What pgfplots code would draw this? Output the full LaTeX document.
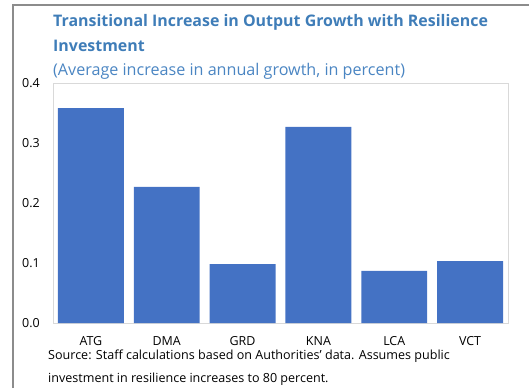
\documentclass[border=0pt]{standalone}
\usepackage{pgfplots}
\pgfplotsset{compat=1.18}
\usepackage{fontspec}
\setmainfont{Open Sans}
\definecolor{barblue}{HTML}{4472C4}
\definecolor{titleblue}{HTML}{3F7DB8}
\definecolor{subblue}{HTML}{4A85C2}
\definecolor{framegray}{HTML}{8C8C8C}
\definecolor{boxgray}{HTML}{D9D9D9}
\begin{document}
\begin{tikzpicture}[x=1bp,y=1bp]
\path[use as bounding box] (0,0) rectangle (529,388);
\draw[framegray, line width=1.5bp] (13,0) -- (13,383) -- (529,383);
\node[anchor=west, text=titleblue, font=\bfseries\fontsize{16}{19}\selectfont, inner sep=0] at (53,366) {Transitional Increase in Output Growth with Resilience};
\node[anchor=west, text=titleblue, font=\bfseries\fontsize{16}{19}\selectfont, inner sep=0] at (53,342) {Investment};
\node[anchor=west, text=subblue, font=\fontsize{16.2}{19}\selectfont, inner sep=0] at (53,317) {(Average increase in annual growth, in percent)};
\begin{axis}[
  at={(53bp,65bp)}, anchor=south west, scale only axis,
  width=455bp, height=240bp,
  ymin=0, ymax=0.4, xmin=-0.5, xmax=5.5,
  ybar, bar width=0.87,
  ytick={0,0.1,0.2,0.3,0.4},
  xtick={0,1,2,3,4,5},
  xticklabels={ATG,DMA,GRD,KNA,LCA,VCT},
  /pgf/number format/assume math mode=true,
  yticklabel={\pgfmathprintnumber[fixed,fixed zerofill,precision=1]{\tick}},
  major tick length=0,
  axis line style={boxgray},
  tick label style={font=\fontsize{12.5}{15}\selectfont, text=black},
  yticklabel style={inner sep=0, xshift=-13bp},
  xticklabel style={inner sep=0, yshift=-13bp},
  scaled y ticks=false,
]
\addplot[fill=barblue, draw=none] coordinates {(0,0.358) (1,0.227) (2,0.098) (3,0.327) (4,0.087) (5,0.103)};
\end{axis}
\node[anchor=west, font=\fontsize{12.6}{15}\selectfont, inner sep=0] at (48,32) {Source: Staff calculations based on Authorities' data. Assumes public};
\node[anchor=west, font=\fontsize{12.6}{15}\selectfont, inner sep=0] at (48,9) {investment in resilience increases to 80 percent.};
\end{tikzpicture}
\end{document}
